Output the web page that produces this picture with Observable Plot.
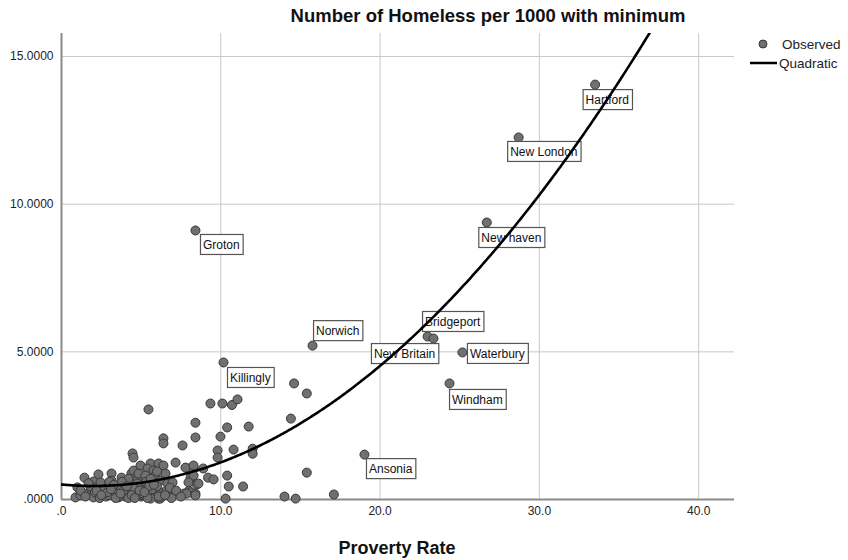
<!DOCTYPE html>
<html>
<head>
<meta charset="utf-8">
<script src="https://cdn.jsdelivr.net/npm/d3@7"></script>
<script src="https://cdn.jsdelivr.net/npm/@observablehq/plot@0.6"></script>
<style>
  body { margin: 0; background: #fff; font-family: "Liberation Sans", Arial, sans-serif; }
  #wrap { position: relative; width: 848px; height: 560px; overflow: hidden; }
  #title { position: absolute; left: 488px; top: 5px; transform: translateX(-50%); white-space: nowrap;
           font-weight: bold; font-size: 18.5px; color: #111; }
  #xtitle { position: absolute; left: 397px; top: 538px; transform: translateX(-50%); white-space: nowrap;
           font-weight: bold; font-size: 18px; color: #111; }
  #chart { position: absolute; left: 0; top: 0; }
</style>
</head>
<body>
<div id="wrap">
  <div id="chart"></div>
  <div id="title">Number of Homeless per 1000 with minimum</div>
  <div id="xtitle">Proverty Rate</div>
</div>
<script>
// ---- Data ----
const labeledTowns = ["Hartford", "New London", "New haven", "Groton", "Norwich", "Bridgeport",
  "New Britain", "Waterbury", "Windham", "Killingly", "Ansonia"];
const labeledPoverty = [33.5, 28.7, 26.7, 8.41, 15.76, 22.98, 23.35, 25.17, 24.36, 10.17, 19.02];
const labeledHomeless = [14.05, 12.26, 9.38, 9.11, 5.21, 5.52, 5.45, 4.98, 3.93, 4.64, 1.52];

// unlabeled towns (the dense cluster near the origin is heavily over-plotted)
const otherPoverty = [
  5.46, 9.35, 10.1, 10.7, 11.05, 8.41, 10.4, 11.75, 8.41, 9.98, 6.4, 6.4, 4.46, 4.52, 7.6, 7.16,
  9.8, 9.8, 10.8, 12.0, 12.0, 14.4, 14.6, 15.4, 15.4, 17.1, 14.0, 14.7, 10.3, 10.4, 10.5, 11.4,
  8.3, 8.1, 9.2, 9.55, 8.5, 8.0, 8.3, 7.7, 8.9, 7.97, 7.78, 8.29, 8.29, 7.97, 8.6, 8.1, 8.41,
  1.44, 2.32, 2.01, 3.14, 3.14, 3.77, 4.39, 4.77, 1.0, 0.88, 1.63, 1.19, 2.26, 2.01, 2.64, 2.95,
  3.26, 3.58, 3.89, 4.14, 4.33, 4.65, 4.77, 4.96, 2.45, 4.52, 4.96, 4.83, 5.59, 6.09, 6.4, 5.4,
  5.78, 5.27, 5.9, 6.53, 6.21, 4.77, 5.4, 6.65, 5.15, 5.78, 6.4, 6.84, 4.77, 6.09, 5.59, 6.97,
  7.03, 6.72, 6.2, 7.85, 8.41, 2.8, 3.0, 3.5, 4.0, 4.2, 5.0, 5.3, 1.9, 2.6, 3.7, 5.1, 5.6, 6.0,
  1.2, 1.5, 1.8, 2.1, 2.4, 2.7, 3.0, 3.3, 3.6, 3.9, 4.2, 4.5, 4.8, 5.1, 5.4, 5.7, 6.0, 6.3, 6.6, 6.9,
  1.7, 2.2, 2.9, 3.4, 3.8, 4.4, 4.9, 5.5, 6.1, 6.8, 2.5, 3.1, 3.7, 4.1, 4.6, 5.2, 5.8, 6.5, 7.2, 7.5
];
const otherHomeless = [
  3.05, 3.25, 3.25, 3.2, 3.39, 2.6, 2.44, 2.47, 2.1, 2.13, 2.07, 1.9, 1.56, 1.42, 1.83, 1.25,
  1.66, 1.42, 1.69, 1.72, 1.55, 2.74, 3.93, 3.59, 0.91, 0.17, 0.1, 0.03, 0.03, 0.81, 0.44, 0.44,
  1.05, 0.74, 0.74, 0.68, 0.51, 0.3, 0.2, 0.2, 1.05, 1.05, 1.08, 1.15, 0.81, 0.58, 0.54, 0.24, 0.2,
  0.74, 0.85, 0.61, 0.88, 0.64, 0.74, 0.88, 0.98, 0.41, 0.07, 0.2, 0.14, 0.41, 0.07, 0.2, 0.41,
  0.3, 0.07, 0.41, 0.2, 0.54, 0.3, 0.64, 0.41, 0.58, 0.98, 1.15, 0.88, 1.22, 1.22, 1.15, 1.05,
  0.98, 0.81, 0.81, 0.88, 0.64, 0.54, 0.54, 0.54, 0.3, 0.3, 0.24, 0.24, 0.2, 0.03, 0.03, 0.58,
  0.27, 0.2, 0.03, 0.2, 0.14, 0.1, 0.6, 0.2, 0.1, 0.7, 0.1, 0.6, 0.35, 0.3, 0.45, 0.15, 0.7, 0.95,
  0.3, 0.1, 0.45, 0.25, 0.05, 0.35, 0.15, 0.5, 0.1, 0.3, 0.05, 0.4, 0.15, 0.2, 0.05, 0.35, 0.45, 0.1, 0.3, 0.05,
  0.55, 0.3, 0.25, 0.05, 0.6, 0.15, 0.3, 0.45, 0.1, 0.4, 0.15, 0.35, 0.2, 0.45, 0.05, 0.25, 0.5, 0.15, 0.3, 0.1
];

const xTicks = [0, 10, 20, 30, 40];
const yTicks = [0, 5, 10, 15];
const xDomain = [0, 42.25];
const yDomain = [0, 15.78];

// label box placement (pixel offset of the box's top-left corner from the point)
const labelPlacement = {
  "Hartford": [-12, 5], "New London": [-11, 4], "New haven": [-8, 5], "Groton": [5, 4],
  "Norwich": [1, -25], "Bridgeport": [-5, -25], "New Britain": [-62, 5], "Waterbury": [5, -9],
  "Windham": [0, 6], "Killingly": [4, 5], "Ansonia": [2, 4]
};

// ---- Build table ----
const labeled = labeledTowns.map((name, i) => ({name, x: labeledPoverty[i], y: labeledHomeless[i]}));
const others = otherPoverty.map((x, i) => ({name: "", x, y: otherHomeless[i]}));
const all = others.concat(labeled);

// Quadratic least-squares fit y = a + b x + c x^2 from the observed points
function quadFit(pts) {
  const S = [[0,0,0],[0,0,0],[0,0,0]], T = [0,0,0];
  for (const p of pts) {
    const v = [1, p.x, p.x * p.x];
    for (let i = 0; i < 3; i++) { T[i] += v[i] * p.y; for (let j = 0; j < 3; j++) S[i][j] += v[i] * v[j]; }
  }
  const M = S.map((r, i) => r.concat([T[i]]));
  for (let i = 0; i < 3; i++) {
    for (let k = i + 1; k < 3; k++) {
      const f = M[k][i] / M[i][i];
      for (let j = i; j < 4; j++) M[k][j] -= f * M[i][j];
    }
  }
  const c = [0,0,0];
  for (let i = 2; i >= 0; i--) {
    let s = M[i][3];
    for (let j = i + 1; j < 3; j++) s -= M[i][j] * c[j];
    c[i] = s / M[i][i];
  }
  return c;
}
const coef = quadFit(all);
const fitLine = d3.range(0, xDomain[1] + 0.001, 0.1).map(x => ({x, y: coef[0] + coef[1] * x + coef[2] * x * x}));

const chart = Plot.plot({
  width: 848, height: 560,
  marginLeft: 61, marginRight: 114, marginTop: 33, marginBottom: 61,
  style: {fontFamily: "'Liberation Sans', Arial, sans-serif", fontSize: "12px", color: "#222", background: "white"},
  x: {domain: xDomain, ticks: xTicks, tickFormat: d => d === 0 ? ".0" : d.toFixed(1), tickSize: 0, tickPadding: 7, label: null},
  y: {domain: yDomain, ticks: yTicks, tickFormat: d => d === 0 ? ".0000" : d.toFixed(4), tickSize: 0, tickPadding: 8, label: null},
  marks: [
    Plot.ruleX(xTicks.filter(d => d > 0), {stroke: "#c8c8c8", strokeWidth: 1, strokeOpacity: 1}),
    Plot.ruleY(yTicks.filter(d => d > 0), {stroke: "#c8c8c8", strokeWidth: 1, strokeOpacity: 1}),
    Plot.ruleX([0], {stroke: "#8a8a8a", strokeWidth: 2}),
    Plot.ruleY([0], {stroke: "#8a8a8a", strokeWidth: 2}),
    Plot.dot(all, {x: "x", y: "y", r: 4.5, fill: "#707070", stroke: "#383838", strokeWidth: 1}),
    Plot.line(fitLine, {x: "x", y: "y", stroke: "#000", strokeWidth: 2.6, clip: true})
  ]
});
document.getElementById("chart").appendChild(chart);

// ---- Boxed town labels, positioned through the plot's scales ----
const xs = chart.scale("x"), ys = chart.scale("y");
const svg = d3.select(chart);
const gl = svg.append("g").attr("font-family", "'Liberation Sans', Arial, sans-serif")
  .attr("font-size", 12).attr("text-anchor", "start");
for (const d of labeled) {
  const px = xs.apply(d.x), py = ys.apply(d.y);
  const [ox, oy] = labelPlacement[d.name];
  const g = gl.append("g");
  const rect = g.append("rect");
  const t = g.append("text").attr("x", px + ox + 3).attr("y", py + oy + 15)
    .attr("text-anchor", "start").attr("fill", "#111").text(d.name);
  const w = t.node().getComputedTextLength();
  rect.attr("x", px + ox + 0.5).attr("y", py + oy + 0.5).attr("width", w + 6).attr("height", 20)
      .attr("fill", "white").attr("stroke", "#555").attr("stroke-width", 1.2);
}
// fit line drawn above labels, as in the reference
const lineG = chart.querySelector('g[aria-label="line"]');
if (lineG) chart.appendChild(lineG);

// ---- Legend ----
const lg = svg.append("g").attr("font-family", "'Liberation Sans', Arial, sans-serif")
  .attr("font-size", 13.5).attr("fill", "#222").attr("text-anchor", "start");
lg.append("circle").attr("cx", 763).attr("cy", 44).attr("r", 4).attr("fill", "#707070").attr("stroke", "#383838");
lg.append("text").attr("x", 782).attr("y", 49).attr("text-anchor", "start").text("Observed");
lg.append("line").attr("x1", 750).attr("x2", 777).attr("y1", 63).attr("y2", 63).attr("stroke", "#000").attr("stroke-width", 2.5);
lg.append("text").attr("x", 779).attr("y", 68).attr("text-anchor", "start").text("Quadratic");
</script>
</body>
</html>
